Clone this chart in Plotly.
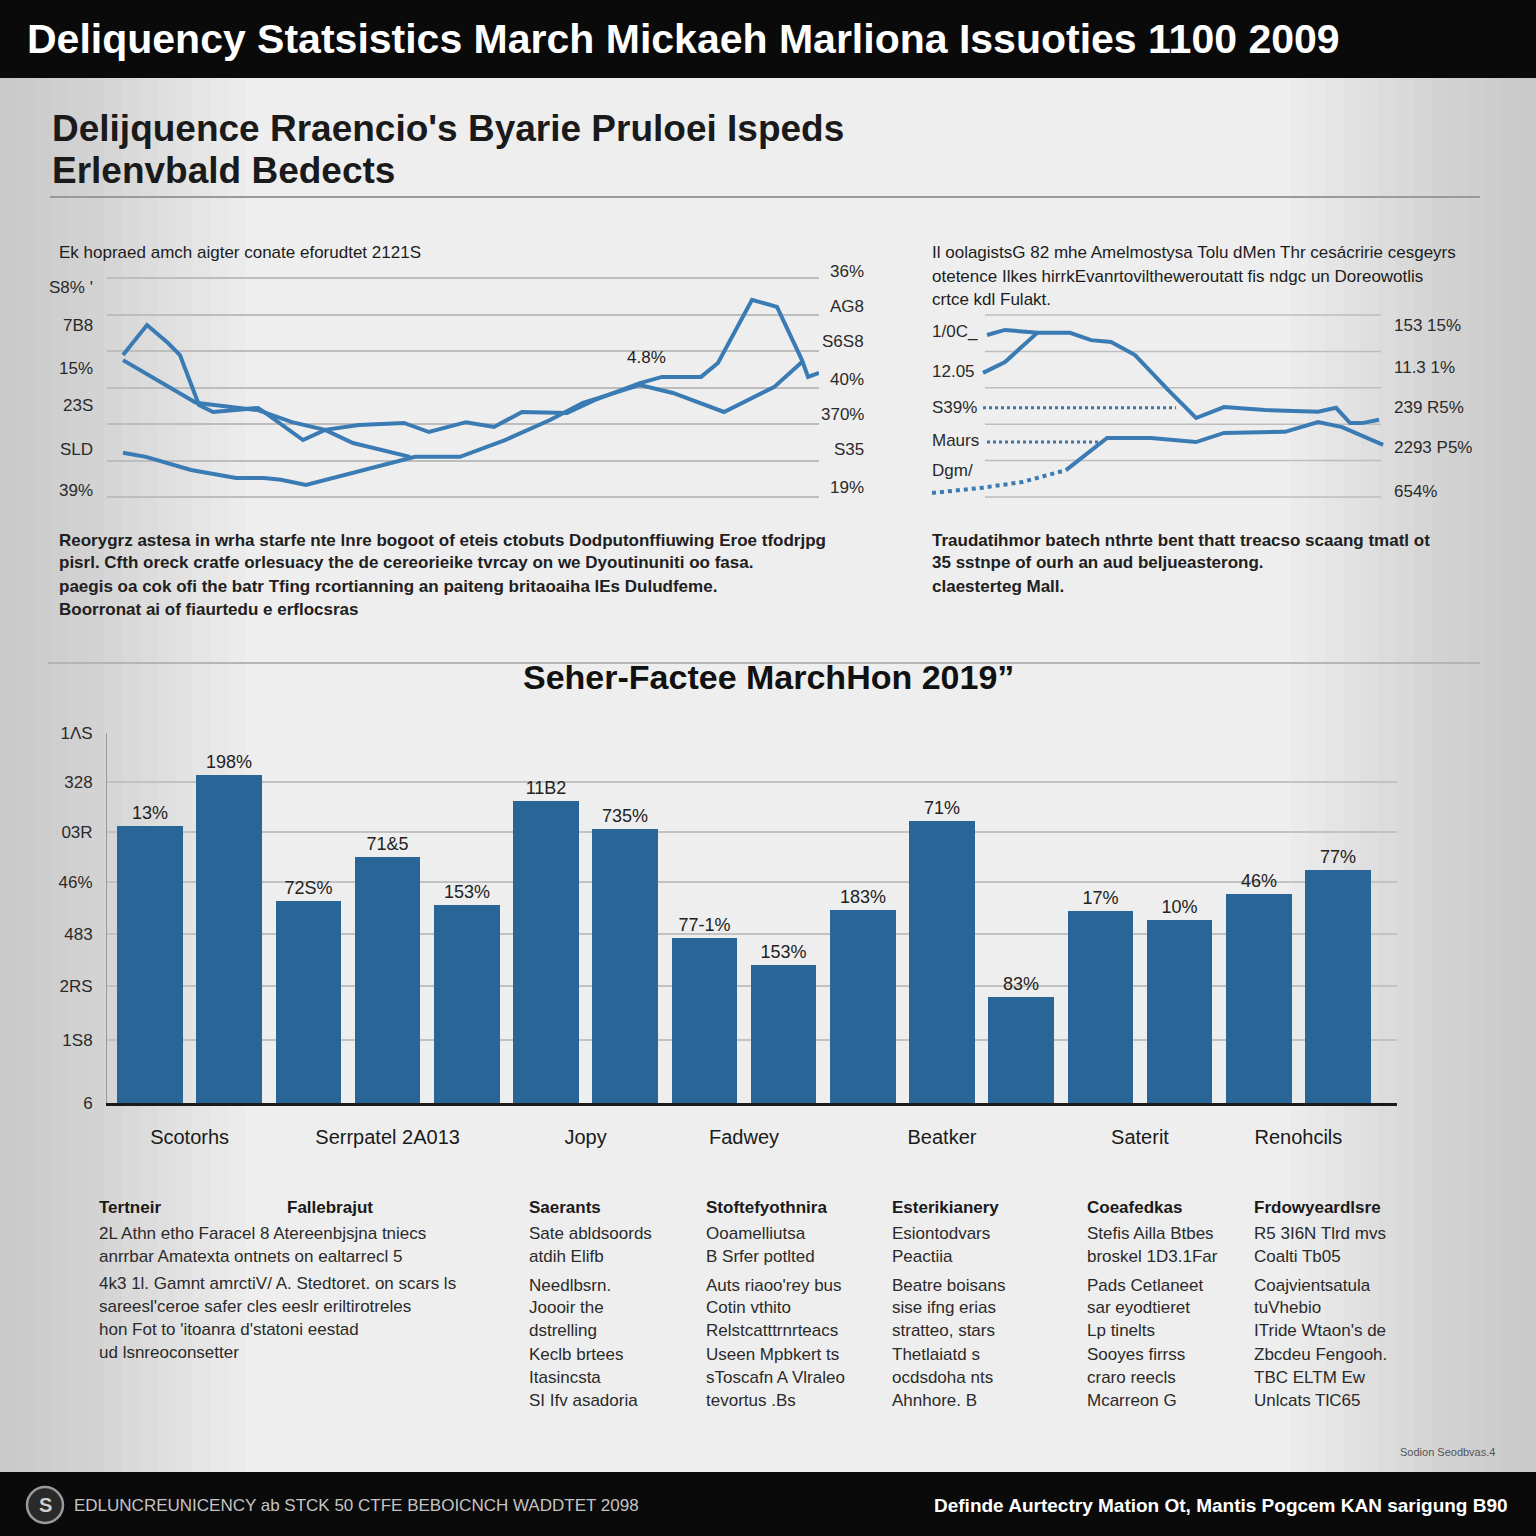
import plotly.graph_objects as go

W = H = 1536
FONT = "Liberation Sans, Arial, sans-serif"

# ---------------- data ----------------
# left line chart (x: 0-100 period index, y: rate units)
lineA_x = [2.25, 5.62, 8.57, 10.25, 12.92, 14.89, 21.21, 22.05, 27.53, 30.62, 35.39, 41.71, 45.22, 50.42,
           54.35, 58.29, 64.61, 68.54, 74.86, 77.95, 83.43, 85.81, 90.59, 94.10, 97.61, 98.46, 100.0]
lineA_y = [3.89, 4.71, 4.22, 3.89, 2.52, 2.33, 2.44, 2.33, 1.56, 1.84, 1.97, 2.03, 1.78, 2.05,
           1.92, 2.33, 2.30, 2.66, 3.12, 3.29, 3.29, 3.67, 5.40, 5.21, 3.75, 3.29, 3.40]
lineB_x = [2.25, 12.5, 21.21, 25.98, 30.62, 34.55, 42.56]
lineB_y = [3.75, 2.58, 2.38, 2.05, 1.84, 1.48, 1.10]
lineC_x = [2.25, 5.48, 11.8, 18.12, 22.05, 24.44, 27.95, 32.3, 40.17, 43.26, 49.58, 55.9, 62.22,
           66.85, 74.86, 79.49, 86.66, 93.68, 97.61]
lineC_y = [1.21, 1.10, 0.74, 0.52, 0.52, 0.47, 0.33, 0.55, 0.93, 1.10, 1.10, 1.56, 2.11,
           2.58, 3.07, 2.85, 2.33, 3.01, 3.70]
left_ticks_l = ["S8% '", "7B8", "15%", "23S", "SLD", "39%"]
left_ticks_l_v = [5.75, 4.71, 3.51, 2.52, 1.29, 0.19]
left_ticks_r = ["36%", "AG8", "S6S8", "40%", "370%", "S35", "19%"]
left_ticks_r_v = [6.19, 5.21, 4.25, 3.21, 2.25, 1.29, 0.25]

# right line chart
lineD_x = [2.48, 6.93, 15.1, 23.02, 28.22, 33.17, 39.11, 47.28, 54.21, 61.14, 71.29, 84.41, 88.86, 92.33, 95.3, 99.5]
lineD_y = [4.45, 4.59, 4.51, 4.51, 4.31, 4.26, 3.90, 2.94, 2.17, 2.47, 2.39, 2.34, 2.45, 2.03, 2.03, 2.12]
lineE_x = [1.49, 6.93, 15.1]
lineE_y = [3.41, 3.71, 4.53]
lineF_x = [-11.14, 0.99, 11.14, 22.03, 32.18, 43.07, 54.21, 61.14, 76.24, 84.41, 90.35, 100.5]
lineF_y = [0.11, 0.25, 0.41, 0.74, 1.62, 1.62, 1.51, 1.76, 1.79, 2.06, 1.92, 1.43]
dot1_x = [1.49, 49.26]
dot1_y = [2.45, 2.45]
dot2_x = [2.48, 31.19]
dot2_y = [1.51, 1.51]
right_ticks_l = ["1/0C_", "12.05", "S39%", "Maurs", "Dgm/"]
right_ticks_l_v = [4.54, 3.44, 2.47, 1.54, 0.74]
right_ticks_r = ["153 15%", "11.3 1%", "239 R5%", "2293 P5%", "654%"]
right_ticks_r_v = [4.72, 3.57, 2.47, 1.35, 0.14]

# bar chart
bar_values = [74.9, 88.6, 54.6, 66.5, 53.5, 81.6, 74.1, 44.6, 37.3, 52.2, 76.2, 28.6, 51.9, 49.5, 56.5, 63.0]
bar_labels = ["13%", "198%", "72S%", "71&5", "153%", "11B2", "735%", "77-1%", "153%",
              "183%", "71%", "83%", "17%", "10%", "46%", "77%"]
group_names = ["Scotorhs", "Serrpatel 2A013", "Jopy", "Fadwey", "Beatker", "Saterit", "Renohcils"]
group_sizes = [2, 3, 2, 2, 3, 2, 2]
bar_left_tickvals = [100, 86.8, 73.2, 59.7, 45.7, 31.6, 17.0, 0]
bar_left_ticktext = ["1ΛS", "328", "03R", "46%", "483", "2RS", "1S8", "6"]
bar_right_tickvals = [100, 86.5, 73.5, 60.3, 47.3, 35.4, 24.3, 12.7, -0.3]
bar_right_ticktext = ["8.58%", "4.19%", "8.10%", "8.35%", "2.25%", "538%", "6C8%", "42%", "62%"]

# ---------------- helpers ----------------
def fx(px):
    return px / W

def fy(py):
    return 1 - py / H

ann = []

def txt(x, y, s, size=17, color="#1c1c1c", bold=False, xanchor="left", yanchor="middle", family=FONT):
    ann.append(dict(x=fx(x), y=fy(y), xref="paper", yref="paper", text=(f"<b>{s}</b>" if bold else s),
                    showarrow=False, xanchor=xanchor, yanchor=yanchor,
                    font=dict(size=size, color=color, family=family)))

LINE_COL = "#3a7bb4"
BAR_COL = "#2a6598"

fig = go.Figure()

# left line chart traces
for xs, ys in [(lineA_x, lineA_y), (lineB_x, lineB_y), (lineC_x, lineC_y)]:
    fig.add_trace(go.Scatter(x=xs, y=ys, mode="lines", line=dict(color=LINE_COL, width=4),
                             xaxis="x", yaxis="y", showlegend=False, hoverinfo="skip"))

# right line chart traces
for xs, ys in [(lineD_x, lineD_y), (lineE_x, lineE_y)]:
    fig.add_trace(go.Scatter(x=xs, y=ys, mode="lines", line=dict(color=LINE_COL, width=4),
                             xaxis="x2", yaxis="y2", showlegend=False, hoverinfo="skip"))
fig.add_trace(go.Scatter(x=lineF_x[:4], y=lineF_y[:4], mode="lines", line=dict(color=LINE_COL, width=4, dash="dot"),
                         xaxis="x2", yaxis="y2", showlegend=False, hoverinfo="skip"))
fig.add_trace(go.Scatter(x=lineF_x[3:], y=lineF_y[3:], mode="lines", line=dict(color=LINE_COL, width=4),
                         xaxis="x2", yaxis="y2", showlegend=False, hoverinfo="skip"))
for xs, ys in [(dot1_x, dot1_y), (dot2_x, dot2_y)]:
    fig.add_trace(go.Scatter(x=xs, y=ys, mode="lines", line=dict(color="#3f74a6", width=3, dash="dot"),
                             xaxis="x2", yaxis="y2", showlegend=False, hoverinfo="skip"))

# bar chart
bar_x = list(range(len(bar_values)))
fig.add_trace(go.Bar(x=bar_x, y=bar_values, text=bar_labels, textposition="outside",
                     textfont=dict(size=18, color="#222222", family=FONT), marker=dict(color=BAR_COL, line=dict(width=0)),
                     width=0.83, cliponaxis=False, xaxis="x3", yaxis="y3", showlegend=False, hoverinfo="skip"))

# group centres for category labels
group_centres = []
start = 0
for n in group_sizes:
    group_centres.append(start + (n - 1) / 2)
    start += n

# ---------------- shapes (background / frames) ----------------
shapes = []
# vignette
for i in range(14):
    w = 0.16 - i * 0.0115
    shapes.append(dict(type="rect", xref="paper", yref="paper", x0=0, x1=w, y0=0, y1=1,
                       fillcolor="#808080", opacity=0.025, line=dict(width=0), layer="below"))
    shapes.append(dict(type="rect", xref="paper", yref="paper", x0=1 - w, x1=1, y0=0, y1=1,
                       fillcolor="#808080", opacity=0.025, line=dict(width=0), layer="below"))
# black header / footer
shapes.append(dict(type="rect", xref="paper", yref="paper", x0=0, x1=1, y0=fy(78), y1=1,
                   fillcolor="#0a0a0a", line=dict(width=0), layer="below"))
shapes.append(dict(type="rect", xref="paper", yref="paper", x0=0, x1=1, y0=0, y1=fy(1472),
                   fillcolor="#0a0a0a", line=dict(width=0), layer="below"))
# rules
shapes.append(dict(type="line", xref="paper", yref="paper", x0=fx(50), x1=fx(1480), y0=fy(197), y1=fy(197),
                   line=dict(color="#9a9a9a", width=2), layer="below"))
shapes.append(dict(type="line", xref="paper", yref="paper", x0=fx(48), x1=fx(1480), y0=fy(663), y1=fy(663),
                   line=dict(color="#b5b5b5", width=2), layer="below"))
# right line chart grid
for g in range(6):
    shapes.append(dict(type="line", xref="x2", yref="y2", x0=1.98, x1=100, y0=g, y1=g,
                       line=dict(color="#bdbdbd", width=1.5), layer="below"))
# footer icon
shapes.append(dict(type="circle", xref="paper", yref="paper", x0=fx(27), x1=fx(63), y0=fy(1523), y1=fy(1487),
                   line=dict(color="#9a9a9a", width=2.5), fillcolor="#2a2a2a", layer="above"))

# ---------------- texts ----------------
txt(25, 39, "Deliquency Statsistics March Mickaeh Marliona Issuoties 1100 2009", size=41, color="#ffffff", bold=True)
txt(50, 128, "Delijquence Rraencio's Byarie Pruloei Ispeds", size=37, color="#1a1a1a", bold=True)
txt(50, 170, "Erlenvbald Bedects", size=37, color="#1a1a1a", bold=True)

txt(57, 253, "Ek hopraed amch aigter conate eforudtet 2121S", size=17)
for i, s in enumerate(["Il oolagistsG 82 mhe Amelmostysa Tolu dMen Thr cesácririe cesgeyrs",
                       "otetence Ilkes hirrkEvanrtoviltheweroutatt fis ndgc un Doreowotlis",
                       "crtce kdl Fulakt."]):
    txt(930, 253 + i * 23, s, size=17)
txt(625, 358, "4.8%", size=17)

for i, s in enumerate(["Reorygrz astesa in wrha starfe nte lnre bogoot of eteis ctobuts Dodputonffiuwing Eroe tfodrjpg",
                       "pisrl. Cfth oreck cratfe orlesuacy the de cereorieike tvrcay on we Dyoutinuniti oo fasa.",
                       "paegis oa cok ofi the batr Tfing rcortianning an paiteng britaoaiha lEs Duludfeme.",
                       "Boorronat ai of fiaurtedu e erflocsras"]):
    txt(57, 540 + i * 23, s, size=17, bold=True, color="#202020")
for i, s in enumerate(["Traudatihmor batech nthrte bent thatt treacso scaang tmatl ot",
                       "35 sstnpe of ourh an aud beljueasterong.",
                       "claesterteg Mall."]):
    txt(930, 540 + i * 23, s, size=17, bold=True, color="#202020")

txt(768, 677, "Seher-Factee MarchHon 2019\u201d", size=34, bold=True, color="#111111", xanchor="center")

# line chart side labels
for s, v in zip(left_ticks_l, left_ticks_l_v):
    ann.append(dict(x=fx(95), y=v, xref="paper", yref="y", text=s, showarrow=False, xanchor="right",
                    font=dict(size=17, color="#2a2a2a", family=FONT)))
for s, v in zip(left_ticks_r, left_ticks_r_v):
    ann.append(dict(x=fx(866), y=v, xref="paper", yref="y", text=s, showarrow=False, xanchor="right",
                    font=dict(size=17, color="#2a2a2a", family=FONT)))
for s, v in zip(right_ticks_l, right_ticks_l_v):
    ann.append(dict(x=fx(930), y=v, xref="paper", yref="y2", text=s, showarrow=False, xanchor="left",
                    font=dict(size=17, color="#2a2a2a", family=FONT)))
for s, v in zip(right_ticks_r, right_ticks_r_v):
    ann.append(dict(x=fx(1392), y=v, xref="paper", yref="y2", text=s, showarrow=False, xanchor="left",
                    font=dict(size=17, color="#2a2a2a", family=FONT)))

# text columns
col_x = [97, 285, 527, 704, 890, 1085, 1252]
col_heads = ["Tertneir", "Fallebrajut", "Saerants", "Stoftefyothnira", "Esterikianery", "Coeafedkas", "Frdowyeardlsre"]
for x, h in zip(col_x, col_heads):
    txt(x, 1207, h, size=17, bold=True, color="#1a1a1a")
col1 = ["2L Athn etho Faracel 8 Atereenbjsjna tniecs",
        "anrrbar Amatexta ontnets on ealtarrecl 5",
        "4k3 1l. Gamnt amrctiV/ A. Stedtoret. on scars ls",
        "sareesl'ceroe safer cles eeslr eriltirotreles",
        "hon Fot to 'itoanra d'statoni eestad",
        "ud lsnreoconsetter"]
for i, s in enumerate(col1):
    txt(97, [1233, 1256, 1283, 1306, 1329, 1352][i], s, size=17, color="#2a2a2a")
ys8 = [1233, 1256, 1285, 1307, 1330, 1354, 1377, 1400]
cols = [
    (527, ["Sate abldsoords", "atdih Elifb", "Needlbsrn.", "Joooir the", "dstrelling", "Keclb brtees", "Itasincsta", "SI Ifv asadoria"]),
    (704, ["Ooamelliutsa", "B Srfer potlted", "Auts riaoo'rey bus", "Cotin vthito", "Relstcatttrnrteacs", "Useen Mpbkert ts", "sToscafn A Vlraleo", "tevortus .Bs"]),
    (890, ["Esiontodvars", "Peactiia", "Beatre boisans", "sise ifng erias", "stratteo, stars", "Thetlaiatd s", "ocdsdoha nts", "Ahnhore. B"]),
    (1085, ["Stefis Ailla Btbes", "broskel 1D3.1Far", "Pads Cetlaneet", "sar eyodtieret", "Lp tinelts", "Sooyes firrss", "craro reecls", "Mcarreon G"]),
    (1252, ["R5 3I6N Tlrd mvs", "Coalti Tb05", "Coajvientsatula", "tuVhebio", "ITride Wtaon's de", "Zbcdeu Fengooh.", "TBC ELTM Ew", "Unlcats TlC65"]),
]
for x, lines in cols:
    for y, s in zip(ys8, lines):
        txt(x, y, s, size=17, color="#2a2a2a")

txt(1497, 1452, "Sodion Seodbvas.4", size=11, color="#555555", xanchor="right")
txt(45, 1505, "S", size=20, color="#cfcfcf", bold=True, xanchor="center")
txt(72, 1505, "EDLUNCREUNICENCY ab STCK 50 CTFE BEBOICNCH WADDTET 2098", size=17, color="#c4c4c4")
txt(1510, 1505, "Definde Aurtectry Mation Ot, Mantis Pogcem KAN sarigung B90", size=19, color="#ffffff", bold=True, xanchor="right")

tickfont = dict(size=17, color="#2a2a2a", family=FONT)

fig.update_layout(
    width=W, height=H, margin=dict(l=0, r=0, t=0, b=0, pad=0, autoexpand=False),
    paper_bgcolor="#eeeeee", plot_bgcolor="rgba(0,0,0,0)",
    font=dict(family=FONT), showlegend=False, bargap=0,
    shapes=shapes, annotations=ann,
    xaxis=dict(domain=[fx(107), fx(819)], range=[0, 100], anchor="y", showgrid=False, zeroline=False,
               showticklabels=False, showline=False, automargin=False),
    yaxis=dict(domain=[fy(507.95), fy(267.05)], range=[-0.3, 6.3], anchor="x", tickvals=[0, 1, 2, 3, 4, 5, 6],
               showgrid=True, gridcolor="#bdbdbd", gridwidth=1.5, showticklabels=False, zeroline=False,
               showline=False, automargin=False),
    xaxis2=dict(domain=[fx(925), fx(1390)], range=[-12.87, 102.2], anchor="y2", showgrid=False, zeroline=False,
                showticklabels=False, showline=False, automargin=False),
    yaxis2=dict(domain=[fy(515.2), fy(296.8)], range=[-0.5, 5.5], anchor="x2", showgrid=False, zeroline=False,
                showticklabels=False, showline=False, automargin=False),
    xaxis3=dict(domain=[fx(107), fx(1397)], range=[-0.543, 15.745], anchor="y3", tickvals=group_centres,
                ticktext=group_names, tickfont=dict(size=20, color="#1a1a1a", family=FONT), ticks="",
                ticklabelstandoff=14, showgrid=False, zeroline=False, showline=True, linecolor="#1a1a1a",
                linewidth=3, automargin=False),
    yaxis3=dict(domain=[fy(1103), fy(733)], range=[0, 100], anchor="x3", tickvals=bar_left_tickvals,
                ticktext=bar_left_ticktext, tickfont=tickfont, ticks="", ticklabelstandoff=10,
                showgrid=True, gridcolor="#c2c2c2", gridwidth=1.5, zeroline=False, showline=True,
                linecolor="#9a9a9a", linewidth=1, automargin=False),
    yaxis4=dict(overlaying="y3", side="right", anchor="x3", range=[0, 100], tickvals=bar_right_tickvals,
                ticktext=bar_right_ticktext, tickfont=tickfont, ticks="", ticklabelstandoff=22,
                showgrid=False, zeroline=False, showline=False, automargin=False),
)

post = ("document.documentElement.style.background='#e6e6e6';document.body.style.background='#e6e6e6';"
        "document.documentElement.style.margin='0';document.body.style.margin='0';"
        "document.body.style.padding='0';document.body.style.overflow='hidden';"
        "var gd=document.getElementById('{plot_id}');gd.style.position='fixed';"
        "gd.style.top='0px';gd.style.left='0px';window.scrollTo(0,0);")
fig.write_html("out.html", config={"displayModeBar": False}, post_script=post)
